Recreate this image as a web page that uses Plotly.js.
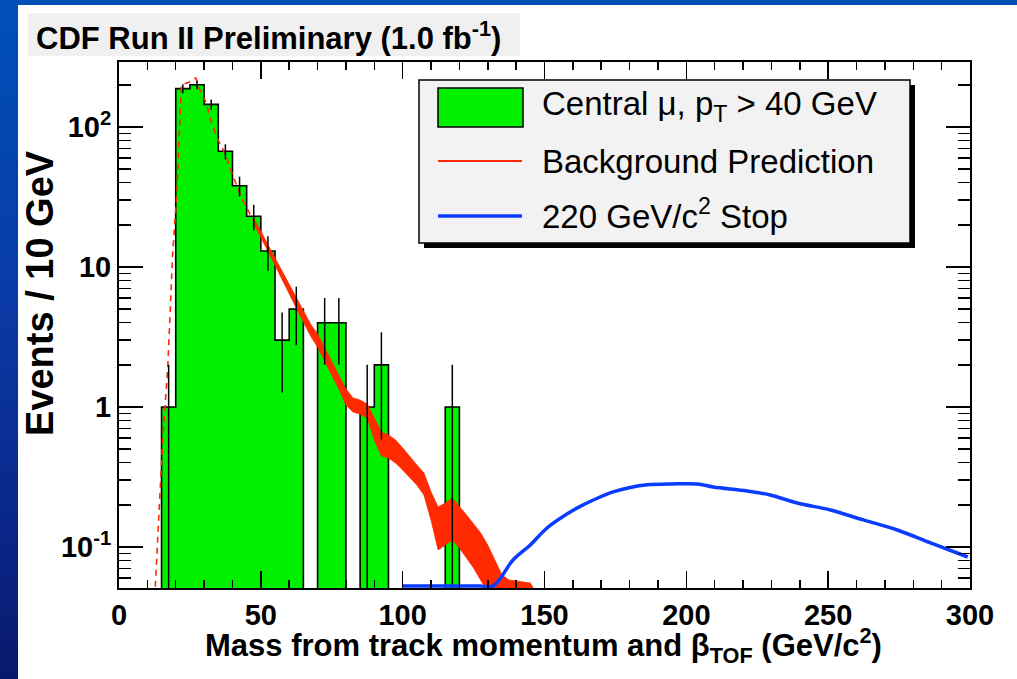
<!DOCTYPE html>
<html><head><meta charset="utf-8">
<script src="https://cdn.plot.ly/plotly-3.0.1.min.js"></script>
<style>
html,body{margin:0;padding:0;width:1017px;height:679px;overflow:hidden;}
body{background:linear-gradient(180deg,#0050b8 0%,#0a3aa6 45%,#0a2486 80%,#08196a 100%);}
#white{position:absolute;left:18px;top:5px;width:999px;height:674px;background:#ffffff;}
#chart{position:absolute;left:0;top:0;width:1017px;height:679px;}
</style></head><body><div id="white"></div><div id="chart"></div>
<script>
// ---------------- data ----------------
const binLowEdges = [15,20,25,30,35,40,45,50,55,60,65,70,75,80,85,90,95,100,105,110,115];
const binWidth = 5;
const counts = [1,188,200,145,67,38,23,13,3,5,0,4,4,0,1,2,0,0,0,0,1];

const bgLineMass  = [12.8,13.2,14.4,15.4,17.2,18.6,18.9,20.3,21.1,22.0,24.5,27.1,28.5,30.8,32.0,34.4,37.3,40.1,43.6,47.2,50.0];
const bgLineValue = [0.052,0.077,0.255,0.58,1.93,8.1,12.2,31.6,80.7,200,208,224,184,148,118,85,65,45,30,21.7,17.2];

const bandMass = [47.5,50,52.5,55,57.5,60,62.5,65,67.5,70,72.5,75,77.5,80,82.5,85,87.5,90,92.5,95,97.5,100,102.5,105,107.5,110,112.5,115,117.5,120,122.5,125,127.5,130,132.5,135,137.5,140,145,146];
const bandHigh = [22.0,18.1,14.4,11.6,9.21,7.44,6.01,4.85,3.92,3.32,2.64,2.13,1.69,1.345,1.16,1.12,1.05,0.835,0.663,0.631,0.581,0.510,0.439,0.385,0.338,0.247,0.193,0.206,0.224,0.196,0.169,0.146,0.126,0.103,0.0807,0.063,0.0581,0.0571,0.0553,0.051];
const bandLow  = [20.3,16.4,13.0,10.3,8.08,6.42,5.09,4.05,3.22,2.68,2.13,1.72,1.345,1.033,0.921,0.891,0.835,0.581,0.447,0.432,0.398,0.355,0.316,0.277,0.235,0.156,0.0952,0.103,0.112,0.0985,0.0834,0.0709,0.058,0.048,0.0418,0.03,0.03,0.03,0.03,0.03];

const stopMass  = [100,110,120,127.3,131.9,138.9,144.9,150.9,157.9,162.6,168.6,174.2,180.2,186.2,195,203.8,209.5,221.5,229.6,239.1,250.8,262.4,274.4,286.1,299.2];
const stopValue = [0.0527,0.0527,0.0527,0.0527,0.0527,0.0807,0.103,0.1367,0.1718,0.195,0.2228,0.2472,0.2661,0.278,0.282,0.2818,0.2683,0.2512,0.2351,0.206,0.1838,0.156,0.1322,0.1068,0.0848];

const xTickVals = [0,50,100,150,200,250,300];
const yTickVals = [0.1,1,10,100];
const yTickText = ['10<sup>-1</sup>','1','10','10<sup>2</sup>'];

const legendLabels = ['Central \u03bc, p<sub>T</sub> > 40 GeV','Background Prediction','220 GeV/c<sup>2</sup> Stop'];
const titleText = '<b>CDF Run II Preliminary (1.0 fb<sup>-1</sup>)</b>';
const xTitle = '<b>Mass from track momentum and \u03b2<sub>TOF</sub> (GeV/c<sup>2</sup>)</b>';
const yTitle = '<b>Events / 10 GeV</b>';

// ---------------- styling / geometry ----------------
const FONT = 'Liberation Sans, Arial, Helvetica, sans-serif';
const GREEN = '#00f000', RED = '#ff2a00', BLUE = '#0a3cff';
const L=119, R=970, T=62, B=588;
const px = x => (x-L)/(R-L);
const py = y => (B-y)/(B-T);
const FLOOR = 1e-3; // below the visible range: clipped at frame bottom like ROOT

// histogram outline polygon
const hx=[], hy=[];
hx.push(binLowEdges[0]); hy.push(FLOOR);
binLowEdges.forEach((lo,i)=>{
  const v = counts[i]>0 ? counts[i] : FLOOR;
  hx.push(lo, lo+binWidth); hy.push(v, v);
});
hx.push(binLowEdges[binLowEdges.length-1]+binWidth); hy.push(FLOOR);

// error bars (Poisson) for non-empty bins
const ex=[], ey=[], ee=[];
binLowEdges.forEach((lo,i)=>{ if(counts[i]>0){ ex.push(lo+binWidth/2); ey.push(counts[i]); ee.push(Math.sqrt(counts[i])); }});

// minor tick values
const xMinor=[]; for(let v=10; v<300; v+=10){ if(v%50!==0) xMinor.push(v); }
const yMinor=[]; for(let k=-2;k<=2;k++){ for(let d=2; d<=9; d++){ yMinor.push(d*Math.pow(10,k)); } }

const traces = [
  {x:hx, y:hy, type:'scatter', mode:'lines', fill:'toself', fillcolor:GREEN,
   line:{color:'#000', width:1.6}, hoverinfo:'skip'},
  {x:bandMass, y:bandLow, type:'scatter', mode:'lines', line:{color:RED, width:0.8}, hoverinfo:'skip'},
  {x:bandMass, y:bandHigh, type:'scatter', mode:'lines', fill:'tonexty', fillcolor:RED,
   line:{color:RED, width:0.8}, hoverinfo:'skip'},
  {x:bgLineMass, y:bgLineValue, type:'scatter', mode:'lines', line:{color:RED, width:1.6, dash:'6px,5px'}, hoverinfo:'skip'},
  {x:ex, y:ey, type:'scatter', mode:'markers', marker:{size:1, color:'rgba(0,0,0,0)'},
   error_y:{type:'data', array:ee, symmetric:true, width:0, thickness:1.5, color:'#000'}, hoverinfo:'skip'},
  {x:stopMass, y:stopValue, type:'scatter', mode:'lines', line:{color:BLUE, width:3.5, shape:'spline', smoothing:1.0}, hoverinfo:'skip'}
];

const axisCommon = {showgrid:false, zeroline:false, showline:true, linecolor:'#000', linewidth:2,
  mirror:'ticks', ticks:'inside', tickcolor:'#000', tickwidth:1.5,
  tickfont:{family:FONT, size:29, color:'#000', weight:'bold'}};

const shapes = [
  {type:'rect', xref:'paper', yref:'paper', x0:px(28), x1:px(520), y0:py(56), y1:py(13), fillcolor:'#f0f0f0', line:{width:0}},
  {type:'rect', xref:'paper', yref:'paper', x0:px(424), x1:px(915), y0:py(248), y1:py(85), fillcolor:'#000', line:{width:0}},
  {type:'rect', xref:'paper', yref:'paper', x0:px(419), x1:px(910), y0:py(243), y1:py(80), fillcolor:'#f2f2f2', line:{color:'#000', width:1.5}},
  {type:'rect', xref:'paper', yref:'paper', x0:px(438), x1:px(523), y0:py(127), y1:py(88), fillcolor:GREEN, line:{color:'#000', width:1.5}},
  {type:'line', xref:'paper', yref:'paper', x0:px(438), x1:px(522), y0:py(161), y1:py(161), line:{color:RED, width:2.2}},
  {type:'line', xref:'paper', yref:'paper', x0:px(438), x1:px(522), y0:py(216), y1:py(216), line:{color:BLUE, width:3.5}}
];

const ann = (text,x,y,size,extra) => Object.assign({text, xref:'paper', yref:'paper', x:px(x), y:py(y),
  showarrow:false, xanchor:'left', yanchor:'middle', font:{family:FONT, size, color:'#000'}}, extra||{});

const annotations = [
  ann(titleText, 34, 36, 31),
  ann(legendLabels[0], 540, 106, 33),
  ann(legendLabels[1], 540, 161, 33),
  ann(legendLabels[2], 540, 214, 33),
  ann(yTitle, 40, 293, 38, {xanchor:'center', textangle:-90}),
  ann(xTitle, 543, 645, 31, {xanchor:'center'})
];

const layout = {
  width:1017, height:679,
  margin:{l:L, r:1017-R, t:T, b:679-B, pad:0},
  paper_bgcolor:'rgba(0,0,0,0)', plot_bgcolor:'#fff',
  showlegend:false,
  xaxis:Object.assign({}, axisCommon, {range:[0,300], tickmode:'array', tickvals:xTickVals, ticklen:17,
    minor:{tickmode:'array', tickvals:xMinor, ticks:'inside', ticklen:8, tickwidth:1.5, tickcolor:'#000', showgrid:false}}),
  yaxis:Object.assign({}, axisCommon, {type:'log', range:[-1.293, 2.464], tickmode:'array', tickvals:yTickVals, ticktext:yTickText, ticklen:24,
    minor:{tickmode:'array', tickvals:yMinor, ticks:'inside', ticklen:12, tickwidth:1.5, tickcolor:'#000', showgrid:false}}),
  shapes, annotations
};

Plotly.newPlot('chart', traces, layout, {staticPlot:true, displayModeBar:false});
</script></body></html>
